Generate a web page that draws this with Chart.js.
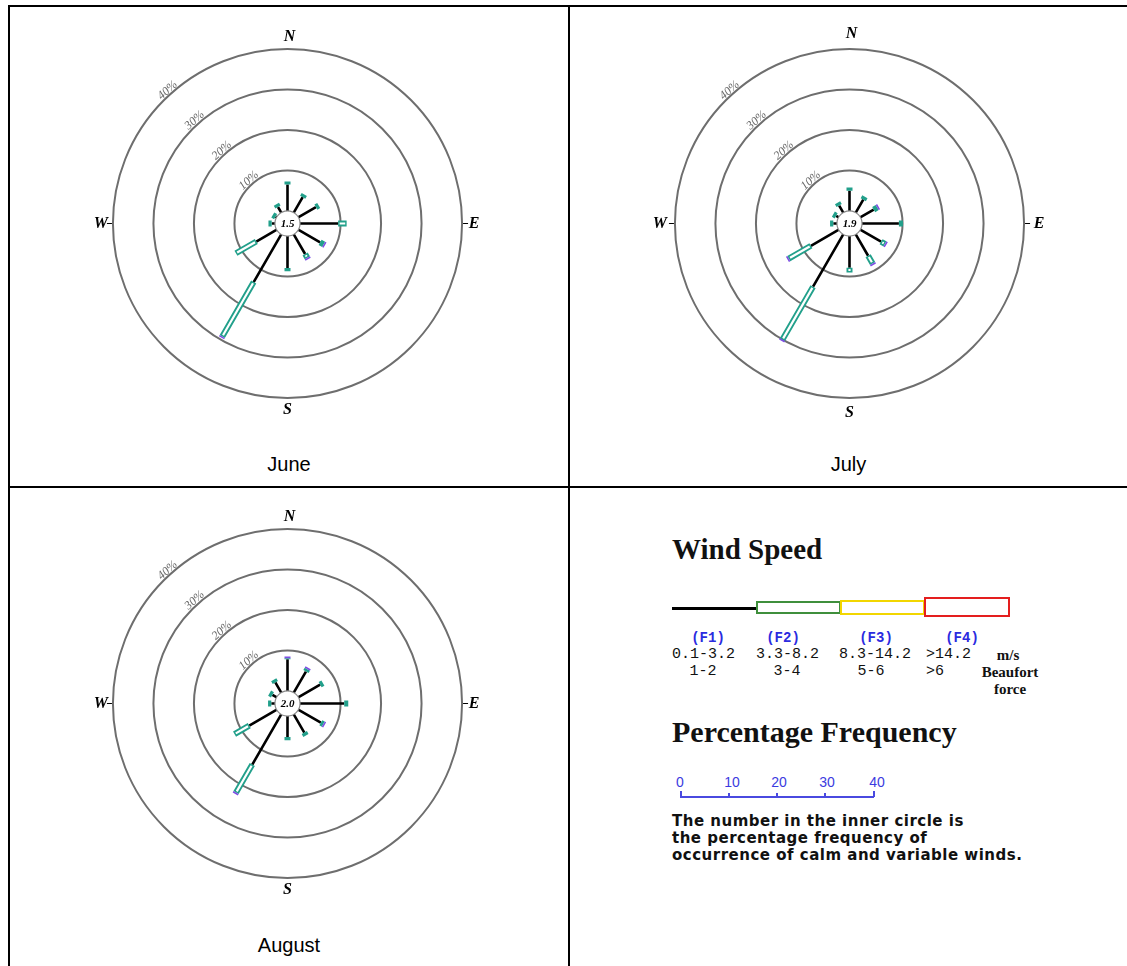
<!DOCTYPE html>
<html>
<head>
<meta charset="utf-8">
<title>Wind roses – June, July, August</title>
<script src="https://cdn.jsdelivr.net/npm/chart.js@4.4.1/dist/chart.umd.min.js"></script>
<style>
  html, body { margin: 0; padding: 0; background: #fff; }
  body { position: relative; width: 1127px; height: 966px; overflow: hidden; font-family: 'Liberation Sans', Arial, sans-serif; }
  .rule { position: absolute; background: #000; }
  .rose { position: absolute; }
  .caption { position: absolute; text-align: center; font-size: 20px; line-height: 24px; color: #000; }
  .title { position: absolute; font: bold 29px/29px 'Liberation Serif', 'Times New Roman', serif; color: #111; white-space: nowrap; }
  .lbl { position: absolute; white-space: nowrap; line-height: 16px; }
  .cls { font: bold 14px/16px 'Liberation Mono', 'Courier New', monospace; color: #2b2bdf; }
  .num { font: 15px/16px 'Liberation Mono', 'Courier New', monospace; color: #111; }
  .unit { font: bold 15px/16px 'Liberation Serif', 'Times New Roman', serif; color: #111; }
  .tick { font: 14px/16px 'Liberation Sans', Arial, sans-serif; color: #3b3be0; }
  .bar { position: absolute; box-sizing: border-box; }
  .note { position: absolute; font: bold 15px/17px 'DejaVu Sans', Verdana, sans-serif; letter-spacing: 0.5px; color: #111; white-space: nowrap; }
</style>
</head>
<body>
<!-- table rules -->
<div class="rule" style="left:8px;top:5px;width:1119px;height:2px"></div>
<div class="rule" style="left:8px;top:5px;width:2px;height:961px"></div>
<div class="rule" style="left:568px;top:5px;width:2px;height:961px"></div>
<div class="rule" style="left:8px;top:486px;width:1119px;height:2px"></div>

<canvas id="june" class="rose" width="405" height="405" style="left:85px;top:21px"></canvas>
<canvas id="july" class="rose" width="405" height="405" style="left:647px;top:21px"></canvas>
<canvas id="august" class="rose" width="405" height="405" style="left:85px;top:501px"></canvas>

<div class="caption" style="left:10px;width:558px;top:452px">June</div>
<div class="caption" style="left:570px;width:557px;top:452px">July</div>
<div class="caption" style="left:10px;width:558px;top:933px">August</div>

<div id="legend"></div>

<script>
// 12 sectors, degrees clockwise from north
const DIRECTIONS = [0, 30, 60, 90, 120, 150, 180, 210, 240, 270, 300, 330];
const RING_PCTS = [10, 20, 30, 40];
const RING_LABELS = ['10%', '20%', '30%', '40%'];
const COMPASS = ['N', 'E', 'S', 'W'];

// percentage frequency per sector and speed class (F1 / F2 / F3)
const JUNE_CALM = 1.5;
const JUNE_F1 = [6.5, 4.4, 5.0, 9.4, 6.2, 5.6, 7.9, 13.6, 5.8, 0.8, 0.3, 1.6];
const JUNE_F2 = [0.8, 0.8, 0.8, 2.1, 1.0, 1.1, 0.8, 15.5, 5.8, 0.8, 0.8, 0.8];
const JUNE_F3 = [0, 0, 0, 0, 0.4, 0.4, 0, 0.4, 0, 0, 0, 0];

const JULY_CALM = 1.9;
const JULY_F1 = [5.0, 3.7, 3.8, 9.1, 5.9, 6.1, 7.8, 14.9, 7.9, 0.9, 0.7, 2.0];
const JULY_F2 = [0.8, 0.8, 1.0, 1.0, 1.1, 2.2, 1.2, 15.1, 6.3, 0.8, 0.8, 0.8];
const JULY_F3 = [0, 0, 0.4, 0, 0.4, 0.4, 0, 0.4, 0.4, 0, 0, 0];

const AUGUST_CALM = 2.0;
const AUGUST_F1 = [7.8, 6.0, 6.2, 10.9, 6.4, 5.2, 5.2, 14.3, 7.8, 0.9, 1.2, 2.9];
const AUGUST_F2 = [0.3, 0.7, 0.8, 1.0, 0.7, 0.8, 0.8, 8.0, 4.2, 0.8, 0.8, 0.8];
const AUGUST_F3 = [0.4, 0.4, 0, 0, 0.4, 0, 0, 0.4, 0, 0, 0, 0];

// legend content
const SPEED_CLASSES = ['(F1)', '(F2)', '(F3)', '(F4)'];
const SPEED_MS = ['0.1-3.2', '3.3-8.2', '8.3-14.2', '>14.2'];
const SPEED_BEAUFORT = ['1-2', '3-4', '5-6', '>6'];
const SCALE_TICKS = [0, 10, 20, 30, 40];

const CALM_R = 3.1;   // radius of the calm circle, in percent units
const EXTENT = 50;    // axis half-range, in percent units
const INSET = 0.35;   // hollow bar end thickness
const TEAL = '#22a08b';
const PURPLE = '#7d4fe3';

function polar(r, deg) {
  const a = deg * Math.PI / 180;
  return { x: r * Math.sin(a), y: r * Math.cos(a) };
}

// build a broken polyline: one segment per sector, separated by gaps
function segments(from, to) {
  const pts = [];
  DIRECTIONS.forEach((d, i) => {
    const a = from[i], b = to[i];
    if (b - a <= 0.01) return;
    pts.push(polar(a, d), polar(b, d), { x: null, y: null });
  });
  return pts;
}

function roseDatasets(f1, f2, f3) {
  const base = f1.map(() => CALM_R - 0.3);
  const e1 = f1.map(v => CALM_R + v);
  const e2 = e1.map((v, i) => v + f2[i]);
  const e3 = e2.map((v, i) => v + f3[i]);
  const innerFrom = e1.map((v, i) => (f2[i] > 2 * INSET + 0.3 ? v + INSET : v));
  const innerTo = e2.map((v, i) => (f2[i] > 2 * INSET + 0.3 ? v - INSET : innerFrom[i]));
  const line = { showLine: true, spanGaps: false, pointRadius: 0, borderCapStyle: 'butt' };
  return [
    { ...line, data: segments(e2, e3), borderColor: PURPLE, borderWidth: 6, order: 0 },
    { ...line, data: segments(innerFrom, innerTo), borderColor: '#ffffff', borderWidth: 2.2, order: 1 },
    { ...line, data: segments(e1, e2), borderColor: TEAL, borderWidth: 6, order: 2 },
    { ...line, data: segments(base, e1), borderColor: '#000000', borderWidth: 2.6, order: 3 },
  ];
}

const roseFrame = {
  id: 'roseFrame',
  beforeDatasetsDraw(chart, args, opts) {
    const { ctx, scales: { x, y } } = chart;
    const cx = x.getPixelForValue(0), cy = y.getPixelForValue(0);
    const unit = x.getPixelForValue(1) - cx;
    ctx.save();
    ctx.strokeStyle = '#6e6e6e';
    ctx.lineWidth = 2;
    RING_PCTS.forEach(p => {
      ctx.beginPath();
      ctx.arc(cx, cy, (CALM_R + p) * unit, 0, Math.PI * 2);
      ctx.stroke();
    });
    // ring labels along the north-west side
    ctx.fillStyle = '#686868';
    ctx.font = 'italic 12px "Liberation Serif", serif';
    ctx.textAlign = 'center';
    ctx.textBaseline = 'alphabetic';
    const ang = -42 * Math.PI / 180;
    RING_PCTS.forEach((p, i) => {
      const r = (CALM_R + p) * unit + 1.5;
      ctx.save();
      ctx.translate(cx + r * Math.sin(ang), cy - r * Math.cos(ang));
      ctx.rotate(ang);
      ctx.fillText(RING_LABELS[i], 0, 0);
      ctx.restore();
    });
    // compass letters
    const outer = (CALM_R + RING_PCTS[RING_PCTS.length - 1]) * unit;
    ctx.fillStyle = '#000';
    ctx.font = 'bold italic 16px "Liberation Serif", serif';
    ctx.textBaseline = 'middle';
    const off = outer + opts.gap;
    ctx.fillText(COMPASS[0], cx + 2, cy - off);
    ctx.fillText(COMPASS[1], cx + off, cy);
    ctx.fillText(COMPASS[2], cx, cy + off);
    ctx.fillText(COMPASS[3], cx - off, cy);
    ctx.strokeStyle = '#000';
    ctx.lineWidth = 1;
    ctx.beginPath();
    ctx.moveTo(cx - outer - 1, cy); ctx.lineTo(cx - outer - 6, cy);
    ctx.moveTo(cx + outer + 1, cy); ctx.lineTo(cx + outer + 6, cy);
    ctx.stroke();
    ctx.restore();
  },
  afterDatasetsDraw(chart, args, opts) {
    const { ctx, scales: { x, y } } = chart;
    const cx = x.getPixelForValue(0), cy = y.getPixelForValue(0);
    const unit = x.getPixelForValue(1) - cx;
    ctx.save();
    ctx.beginPath();
    ctx.arc(cx, cy, CALM_R * unit, 0, Math.PI * 2);
    ctx.fillStyle = '#fff';
    ctx.fill();
    ctx.strokeStyle = '#8a8a8a';
    ctx.lineWidth = 1.2;
    ctx.stroke();
    ctx.fillStyle = '#000';
    ctx.font = 'bold italic 11px "Liberation Serif", serif';
    ctx.textAlign = 'center';
    ctx.textBaseline = 'middle';
    ctx.fillText(opts.calm.toFixed(1), cx, cy + 0.5);
    ctx.restore();
  }
};

function makeRose(id, calm, f1, f2, f3, gap) {
  return new Chart(document.getElementById(id), {
    type: 'scatter',
    data: { datasets: roseDatasets(f1, f2, f3) },
    options: {
      responsive: false,
      animation: false,
      events: [],
      layout: { padding: 0 },
      scales: {
        x: { type: 'linear', min: -EXTENT, max: EXTENT, display: false },
        y: { type: 'linear', min: -EXTENT, max: EXTENT, display: false },
      },
      plugins: {
        legend: { display: false },
        tooltip: { enabled: false },
        roseFrame: { calm: calm, gap: gap },
      },
    },
    plugins: [roseFrame],
  });
}

makeRose('june', JUNE_CALM, JUNE_F1, JUNE_F2, JUNE_F3, 12);
makeRose('july', JULY_CALM, JULY_F1, JULY_F2, JULY_F3, 15);
makeRose('august', AUGUST_CALM, AUGUST_F1, AUGUST_F2, AUGUST_F3, 12);

// legend panel (bottom right cell)
const legend = document.getElementById('legend');
function put(cls, text, x, y, align) {
  const el = document.createElement('div');
  el.className = cls;
  el.textContent = text;
  el.style.top = (y - 8) + 'px';
  if (align === 'center') {
    el.style.left = (x - 60) + 'px';
    el.style.width = '120px';
    el.style.textAlign = 'center';
  } else {
    el.style.left = x + 'px';
  }
  legend.appendChild(el);
  return el;
}
function box(x, y, w, h, style) {
  const el = document.createElement('div');
  el.className = 'bar';
  Object.assign(el.style, { left: x + 'px', top: y + 'px', width: w + 'px', height: h + 'px' }, style);
  legend.appendChild(el);
}

const title1 = document.createElement('div');
title1.className = 'title';
title1.textContent = 'Wind Speed';
title1.style.left = '672px';
title1.style.top = '535px';
legend.appendChild(title1);

box(672, 607, 85, 2.5, { background: '#000' });
box(756, 601, 85, 13, { border: '2px solid #3f8f3c' });
box(840, 600, 85, 15, { border: '2px solid #f2d600' });
box(924, 597, 86, 20, { border: '2px solid #e41e1e' });

const clsX = [708, 783, 876, 962];
SPEED_CLASSES.forEach((t, i) => put('lbl cls', t, clsX[i], 638, 'center'));
const msX = [672, 756, 839, 926];
SPEED_MS.forEach((t, i) => put('lbl num', t, msX[i], 655));
const bfX = [703, 787, 871, 926];
SPEED_BEAUFORT.forEach((t, i) => put('lbl num', t, bfX[i], 672, i < 3 ? 'center' : 'left'));
put('lbl unit', 'm/s', 1008, 655, 'center');
put('lbl unit', 'Beaufort', 1010, 672, 'center');
put('lbl unit', 'force', 1010, 689, 'center');

const title2 = document.createElement('div');
title2.className = 'title';
title2.textContent = 'Percentage Frequency';
title2.style.left = '672px';
title2.style.top = '717px';
title2.style.fontSize = '30px';
legend.appendChild(title2);

const tickX = [680, 728, 776, 824, 873];
const tickTextX = [680, 732, 779, 827, 877];
box(680, 796, 194, 1.5, { background: '#4a4ae0' });
SCALE_TICKS.forEach((v, i) => {
  const end = i === 0 || i === SCALE_TICKS.length - 1;
  box(tickX[i], end ? 791 : 793, 1.5, end ? 6 : 4, { background: '#4a4ae0' });
  put('lbl tick', String(v), tickTextX[i], 782, 'center');
});

['The number in the inner circle is', 'the percentage frequency of', 'occurrence of calm and variable winds.']
  .forEach((t, i) => {
    const el = document.createElement('div');
    el.className = 'note';
    el.textContent = t;
    el.style.left = '672px';
    el.style.top = (813 + i * 17) + 'px';
    legend.appendChild(el);
  });
</script>
</body>
</html>
